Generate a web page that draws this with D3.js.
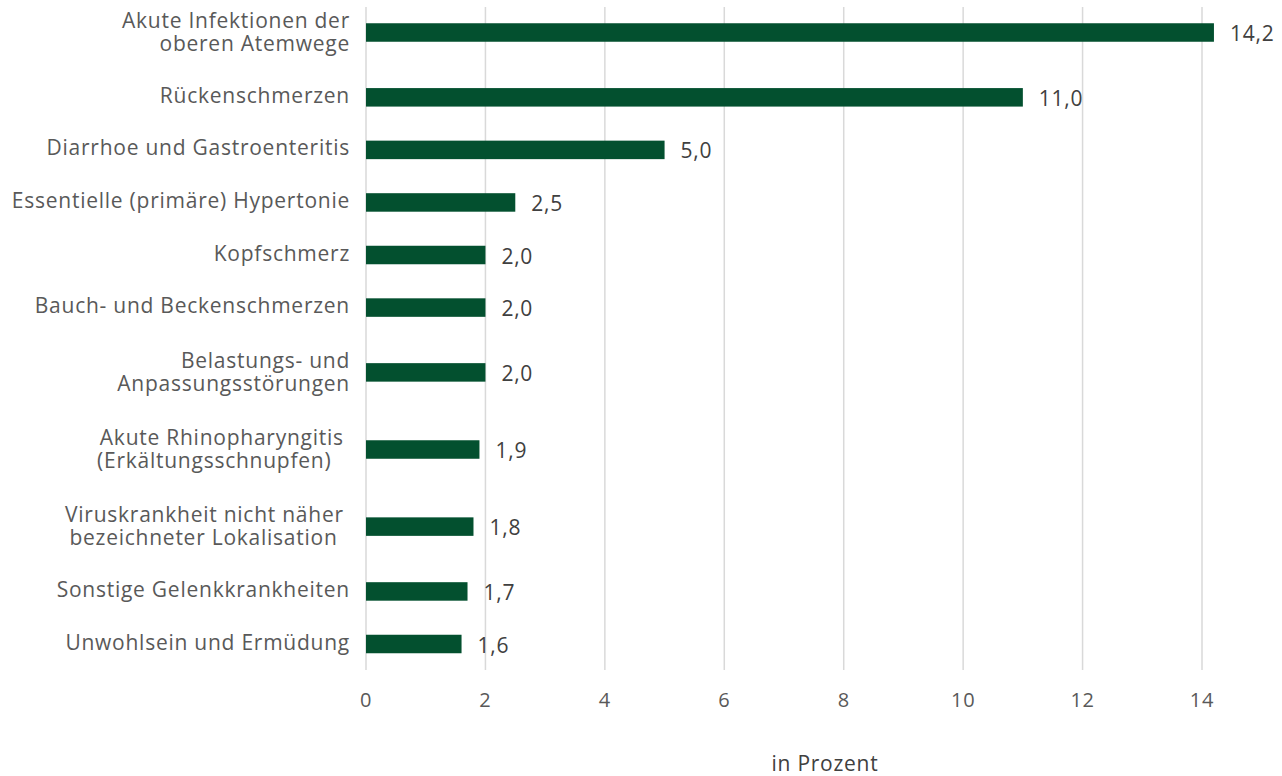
<!DOCTYPE html>
<html>
<head>
<meta charset="utf-8">
<script src="https://cdn.jsdelivr.net/npm/d3@7"></script>
<style>
  body { margin: 0; background: #fff; }
  text { font-family: "Open Sans", sans-serif; }
</style>
</head>
<body>
<div id="main"></div>
<script>
// Data: share of sick days by diagnosis (in Prozent)
const categories = [
  ['Akute Infektionen der', 'oberen Atemwege'],
  ['Rückenschmerzen'],
  ['Diarrhoe und Gastroenteritis'],
  ['Essentielle (primäre) Hypertonie'],
  ['Kopfschmerz'],
  ['Bauch- und Beckenschmerzen'],
  ['Belastungs- und', 'Anpassungsstörungen'],
  ['Akute Rhinopharyngitis\u00a0', '(Erkältungsschnupfen)\u00a0\u00a0\u00a0'],
  ['Viruskrankheit nicht näher\u00a0', 'bezeichneter Lokalisation\u00a0\u00a0'],
  ['Sonstige Gelenkkrankheiten'],
  ['Unwohlsein und Ermüdung']
];
const values = [14.2, 11.0, 5.0, 2.5, 2.0, 2.0, 2.0, 1.9, 1.8, 1.7, 1.6];
const xTicks = [0, 2, 4, 6, 8, 10, 12, 14];
const xTitle = 'in Prozent';

const width = 1282;
const height = 776;
const barColor = '#03502f';

const svg = d3.select('#main')
  .append('svg')
  .attr('width', width)
  .attr('height', height);

// x scale
const x = d3.scaleLinear().domain([0, 14]).range([366, 1202]);

// row layout: two-line labels take a taller row
const twoLineWeight = 1.467;
let acc = 0;
const rowCenters = categories.map(c => {
  const w = c.length > 1 ? twoLineWeight : 1;
  const center = acc + w / 2;
  acc += w;
  return center;
});
const y = d3.scaleLinear()
  .domain([rowCenters[0], rowCenters[rowCenters.length - 1]])
  .range([32.5, 644]);

// gridlines
svg.append('g')
  .selectAll('line')
  .data(xTicks)
  .enter()
  .append('line')
  .attr('x1', d => x(d))
  .attr('x2', d => x(d))
  .attr('y1', 7)
  .attr('y2', 670)
  .attr('stroke', '#d9d9d9')
  .attr('stroke-width', 1.5);

// tick labels
svg.append('g')
  .selectAll('text')
  .data(xTicks)
  .enter()
  .append('text')
  .attr('x', d => x(d))
  .attr('y', 707)
  .attr('text-anchor', 'middle')
  .attr('fill', '#595959')
  .style('font-size', '20px')
  .style('letter-spacing', '0.7px')
  .text(d => d);

// axis title
svg.append('text')
  .attr('x', 825)
  .attr('y', 771)
  .attr('text-anchor', 'middle')
  .attr('fill', '#404040')
  .style('font-size', '21px')
  .style('letter-spacing', '0.75px')
  .text(xTitle);

const barH = 18.5;
const rows = values.map((v, i) => ({ v, lines: categories[i], cy: y(rowCenters[i]) }));

// bars
svg.append('g')
  .selectAll('rect')
  .data(rows)
  .enter()
  .append('rect')
  .attr('x', x(0))
  .attr('y', d => d.cy - barH / 2)
  .attr('width', d => x(d.v) - x(0))
  .attr('height', barH)
  .attr('fill', barColor);

// value labels
svg.append('g')
  .selectAll('text')
  .data(rows)
  .enter()
  .append('text')
  .attr('x', d => x(d.v) + 16)
  .attr('y', d => d.cy + 8.5)
  .attr('fill', '#404040')
  .style('font-size', '21px')
  .style('letter-spacing', '0.75px')
  .text(d => d3.format('.1f')(d.v).replace('.', ','));

// category labels
const lineH = 22.6;
const labels = svg.append('g')
  .selectAll('text')
  .data(rows)
  .enter()
  .append('text')
  .attr('text-anchor', 'end')
  .attr('fill', '#595959')
  .style('font-size', '21px')
  .style('letter-spacing', '0.75px')
  .style('white-space', 'pre');

labels.selectAll('tspan')
  .data(d => d.lines.map((t, j) => ({ t, j, n: d.lines.length, cy: d.cy })))
  .enter()
  .append('tspan')
  .attr('x', 350)
  .attr('y', d => d.cy + (d.j - (d.n - 1) / 2) * lineH + (d.n > 1 ? 6.8 : 5.5))
  .text(d => d.t);
</script>
</body>
</html>
